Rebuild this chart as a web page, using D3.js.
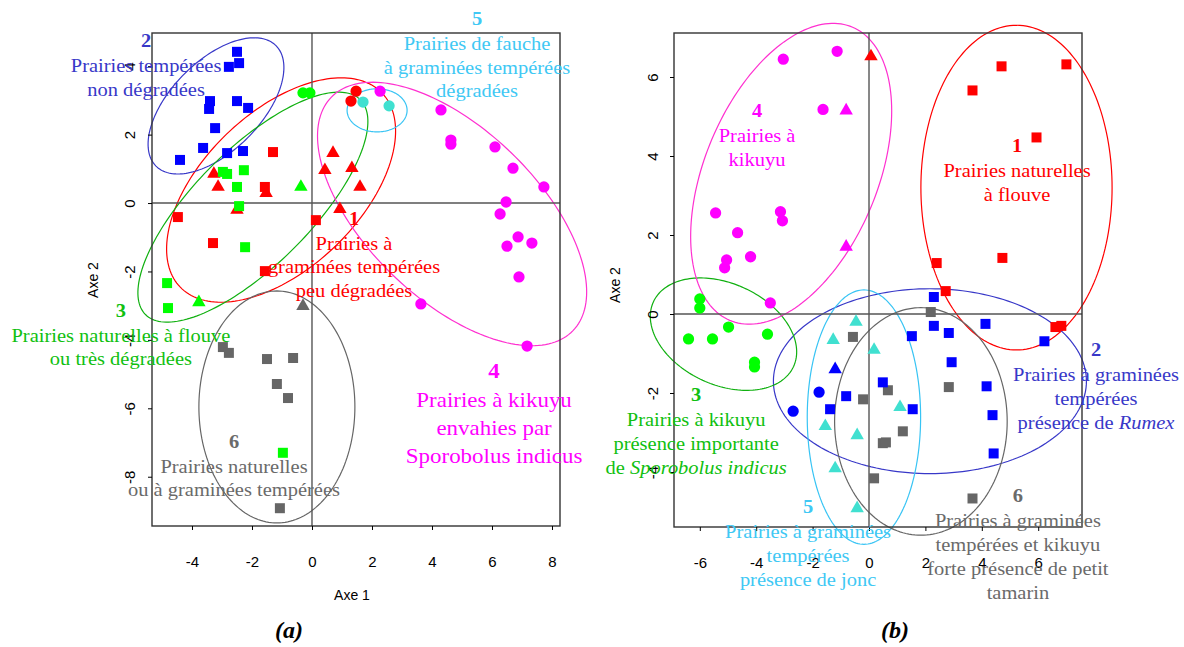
<!DOCTYPE html>
<html>
<head>
<meta charset="utf-8">
<script src="https://cdn.jsdelivr.net/npm/d3@7"></script>
<style>
  body { margin: 0; background: #fff; }
  svg { display: block; }
</style>
</head>
<body>
<div id="chart"></div>
<script>
// groups of grassland types (1..6)
const groupIds = [1, 2, 3, 4, 5, 6];

// panel (a) : [axe1, axe2, group, shape]  s = square, t = triangle, c = circle
const pointsA = [
  // group 2
  [-2.5, 4.42, 2, "s"], [-2.43, 4.09, 2, "s"], [-2.77, 3.98, 2, "s"], [-3.4, 2.98, 2, "s"],
  [-3.43, 2.75, 2, "s"], [-2.5, 2.98, 2, "s"], [-2.13, 2.78, 2, "s"], [-3.23, 2.19, 2, "s"],
  [-3.63, 1.61, 2, "s"], [-4.4, 1.26, 2, "s"], [-2.83, 1.46, 2, "s"], [-2.3, 1.52, 2, "s"],
  // group 1
  [-1.3, 1.49, 1, "s"], [-1.57, 0.47, 1, "s"], [-4.47, -0.41, 1, "s"], [-3.3, -1.17, 1, "s"],
  [0.13, -0.5, 1, "s"], [-1.57, -1.99, 1, "s"],
  [-3.27, 0.85, 1, "t"], [-3.13, 0.47, 1, "t"], [-1.53, 0.29, 1, "t"], [-2.5, -0.2, 1, "t"],
  [0.7, 1.46, 1, "t"], [0.43, 0.96, 1, "t"], [1.33, 1.02, 1, "t"], [1.6, 0.47, 1, "t"],
  [0.93, -0.18, 1, "t"],
  [1.47, 3.27, 1, "c"], [1.3, 2.98, 1, "c"],
  // group 3
  [-2.97, 0.91, 3, "s"], [-2.83, 0.85, 3, "s"], [-2.27, 0.96, 3, "s"], [-2.5, 0.47, 3, "s"],
  [-2.43, -0.09, 3, "s"], [-2.23, -1.29, 3, "s"], [-4.83, -2.34, 3, "s"], [-4.8, -3.07, 3, "s"],
  [-0.97, -7.3, 3, "s"],
  [-3.77, -2.9, 3, "t"], [-0.37, 0.47, 3, "t"],
  [-0.3, 3.22, 3, "c"], [-0.07, 3.22, 3, "c"],
  // group 6
  [-2.97, -4.21, 6, "s"], [-2.77, -4.38, 6, "s"], [-1.5, -4.56, 6, "s"], [-0.63, -4.53, 6, "s"],
  [-1.17, -5.29, 6, "s"], [-0.8, -5.7, 6, "s"], [-1.07, -8.92, 6, "s"],
  [-0.3, -3.01, 6, "t"],
  // group 5
  [1.7, 2.95, 5, "c"], [2.57, 2.84, 5, "c"],
  // group 4
  [2.27, 3.27, 4, "c"], [4.3, 2.72, 4, "c"], [4.63, 1.84, 4, "c"], [4.63, 1.72, 4, "c"],
  [6.1, 1.64, 4, "c"], [6.7, 1.02, 4, "c"], [7.73, 0.47, 4, "c"], [6.47, 0.03, 4, "c"],
  [6.27, -0.32, 4, "c"], [6.87, -0.99, 4, "c"], [6.5, -1.26, 4, "c"], [7.33, -1.17, 4, "c"],
  [6.9, -2.16, 4, "c"], [3.63, -2.95, 4, "c"], [7.17, -4.18, 4, "c"]
];

// panel (b)
const pointsB = [
  // group 4
  [-3.04, 6.45, 4, "c"], [-1.13, 6.65, 4, "c"], [-1.63, 5.18, 4, "c"], [-5.44, 2.56, 4, "c"],
  [-3.14, 2.59, 4, "c"], [-3.07, 2.36, 4, "c"], [-4.66, 2.06, 4, "c"], [-5.05, 1.37, 4, "c"],
  [-5.12, 1.17, 4, "c"], [-4.2, 1.45, 4, "c"], [-3.5, 0.28, 4, "c"],
  [-0.81, 5.15, 4, "t"], [-0.81, 1.7, 4, "t"],
  // group 1
  [0.07, 6.52, 1, "t"],
  [4.7, 6.27, 1, "s"], [7.0, 6.32, 1, "s"], [3.67, 5.66, 1, "s"], [5.94, 4.47, 1, "s"],
  [2.4, 1.29, 1, "s"], [4.73, 1.42, 1, "s"], [2.72, 0.58, 1, "s"], [6.61, -0.33, 1, "s"],
  [6.82, -0.3, 1, "s"],
  // group 3
  [-6.0, 0.38, 3, "c"], [-6.0, 0.15, 3, "c"], [-4.98, -0.33, 3, "c"], [-6.4, -0.63, 3, "c"],
  [-5.55, -0.63, 3, "c"], [-3.6, -0.51, 3, "c"], [-4.06, -1.22, 3, "c"], [-4.06, -1.34, 3, "c"],
  // group 5
  [-0.46, -0.2, 5, "t"], [-1.27, -0.66, 5, "t"], [0.18, -0.91, 5, "t"], [-1.55, -2.84, 5, "t"],
  [-0.42, -3.07, 5, "t"], [-1.2, -3.91, 5, "t"], [-0.42, -4.92, 5, "t"], [1.1, -2.36, 5, "t"],
  // group 6
  [2.19, 0.05, 6, "s"], [-0.57, -0.58, 6, "s"], [-0.21, -2.16, 6, "s"], [0.67, -1.93, 6, "s"],
  [2.83, -1.85, 6, "s"], [1.2, -2.97, 6, "s"], [0.49, -3.27, 6, "s"], [0.6, -3.25, 6, "s"],
  [0.18, -4.16, 6, "s"], [3.67, -4.67, 6, "s"],
  // group 2
  [-1.2, -1.4, 2, "t"],
  [-1.77, -1.98, 2, "c"], [-2.69, -2.46, 2, "c"],
  [-0.81, -2.08, 2, "s"], [-1.38, -2.41, 2, "s"], [2.3, 0.43, 2, "s"], [2.3, -0.3, 2, "s"],
  [2.83, -0.48, 2, "s"], [1.52, -0.56, 2, "s"], [4.13, -0.25, 2, "s"], [6.22, -0.69, 2, "s"],
  [2.93, -1.22, 2, "s"], [0.49, -1.73, 2, "s"], [4.17, -1.83, 2, "s"], [1.55, -2.41, 2, "s"],
  [4.38, -2.56, 2, "s"], [4.42, -3.53, 2, "s"]
];

// ellipses : [group, cx, cy, ux, uy, vx, vy]  (centre + two conjugate half axes)
const ellipsesA = [
  [1, -1.03, 0.38, 3.36, 2.84, 1.81, -1.64],
  [2, -3.2, 2.84, 2.0, 1.76, 1.06, -0.93],
  [3, -1.97, -0.12, 3.58, 3.14, 1.37, -1.2],
  [4, 4.67, -0.32, 4.03, -3.41, -1.97, -1.79],
  [5, 2.17, 2.71, 1.0, 0, 0, 0.63],
  [6, -1.17, -5.96, 2.6, 0, 0, 3.39]
];
const ellipsesB = [
  [1, 5.23, 3.2, 3.39, 0, 0, 4.11],
  [2, 2.16, -1.7, 5.55, 0, 0, 2.34],
  [3, -5.16, -0.51, 2.49, -0.81, -0.73, -1.17],
  [4, -2.76, 3.55, 2.18, 3.71, 2.82, -0.86],
  [5, -0.18, -2.61, 2.01, 0, 0, 3.22],
  [6, 1.84, -2.72, 3.06, 0, 0, 2.88]
];

// group labels : [group, axe1, axe2, lines]   (*...* = italic)
const labelsA = [
  [2, -5.53, 4.56, ["Prairies tempérées", "non dégradées"]],
  [5, 5.5, 5.2, ["Prairies de fauche", "à graminées tempérées", "dégradées"]],
  [1, 1.4, -0.64, ["Prairies à", "graminées tempérées", "peu dégradées"]],
  [3, -6.37, -3.33, ["Prairies naturelles à flouve", "ou très dégradées"]],
  [4, 6.07, -5.12, ["Prairies à kikuyu", "envahies par", "Sporobolus indicus"]],
  [6, -2.6, -7.16, ["Prairies naturelles", "ou à graminées tempérées"]]
];
const labelsB = [
  [4, -3.97, 4.99, ["Prairies à", "kikuyu"]],
  [1, 5.25, 4.1, ["Prairies naturelles", "à flouve"]],
  [2, 8.05, -1.06, ["Prairies à graminées", "tempérées", "présence de *Rumex*"]],
  [3, -6.13, -2.2, ["Prairies à kikuyu", "présence importante", "de *Sporobolus indicus*"]],
  [5, -2.16, -5.04, ["Prairies à graminées", "tempérées", "présence de jonc"]],
  [6, 5.28, -4.76, ["Prairies à graminées", "tempérées et kikuyu", "forte présence de petit", "tamarin"]]
];

const ticksAx = [-4, -2, 0, 2, 4, 6, 8];
const ticksAy = [-8, -6, -4, -2, 0, 2, 4];
const ticksBx = [-6, -4, -2, 0, 2, 4, 6];
const ticksBy = [-4, -2, 0, 2, 4, 6];

// colours
const pointColor = { 1: "#ff0000", 2: "#0000ff", 3: "#00ff00", 4: "#ff00ff", 5: "#40e0d0", 6: "#666666" };
const ellipseColor = { 1: "#ff0000", 2: "#3838c8", 3: "#10b010", 4: "#ff30d0", 5: "#38c4f4", 6: "#666666" };
const labelColor = { 1: "#ff0000", 2: "#3838c8", 3: "#10c010", 4: "#ff00ff", 5: "#40c8f4", 6: "#6a6a6a" };

const W = 1184, H = 647;
const svg = d3.select("#chart").append("svg")
  .attr("width", W).attr("height", H)
  .attr("viewBox", "0 0 " + W + " " + H);

const sans = "'Liberation Sans', Arial, sans-serif";
const serif = "'Liberation Serif', 'Times New Roman', serif";
const tickFmt = d => String(d); // plain hyphen minus, like R

function drawPanel(p) {
  const x = d3.scaleLinear().domain(p.xDomain).range([p.left, p.right]);
  const y = d3.scaleLinear().domain(p.yDomain).range([p.bottom, p.top]);
  const g = svg.append("g");

  // ellipses
  const tt = d3.range(0, 2 * Math.PI + 0.001, Math.PI / 90);
  const line = d3.line().x(d => x(d[0])).y(d => y(d[1]));
  p.ellipses.forEach(e => {
    const pts = tt.map(t => [e[1] + e[3] * Math.cos(t) + e[5] * Math.sin(t),
                             e[2] + e[4] * Math.cos(t) + e[6] * Math.sin(t)]);
    g.append("path")
      .attr("d", line(pts) + "Z")
      .attr("fill", "none")
      .attr("stroke", ellipseColor[e[0]])
      .attr("stroke-width", 1.2);
  });

  // zero lines
  g.append("line")
    .attr("x1", x(0)).attr("x2", x(0)).attr("y1", p.top).attr("y2", p.bottom)
    .attr("stroke", "#555").attr("stroke-width", 1.4);
  g.append("line")
    .attr("x1", p.left).attr("x2", p.right).attr("y1", y(0)).attr("y2", y(0))
    .attr("stroke", "#555").attr("stroke-width", 1.4);

  // box
  g.append("rect")
    .attr("x", p.left).attr("y", p.top)
    .attr("width", p.right - p.left).attr("height", p.bottom - p.top)
    .attr("fill", "none").attr("stroke", "#333").attr("stroke-width", 1.4);

  // axes
  const xAxis = g.append("g")
    .attr("transform", "translate(0," + p.bottom + ")")
    .call(d3.axisBottom(x).tickValues(p.xTicks).tickSize(4).tickPadding(26).tickFormat(tickFmt));
  xAxis.select(".domain").remove();
  xAxis.selectAll("text").style("font-family", sans).style("font-size", "15px").attr("fill", "#000");

  const yAxis = g.append("g")
    .attr("transform", "translate(" + p.left + ",0)")
    .call(d3.axisLeft(y).tickValues(p.yTicks).tickSize(4).tickFormat(tickFmt));
  yAxis.select(".domain").remove();
  yAxis.selectAll("text")
    .attr("x", null).attr("dy", null)
    .attr("text-anchor", "middle")
    .attr("transform", "translate(" + (-p.yLabelOffset) + ",0) rotate(-90)")
    .style("font-family", sans).style("font-size", "15px").attr("fill", "#000");

  g.append("text")
    .attr("transform", "translate(" + p.axe2X + "," + p.axe2Y + ") rotate(-90)")
    .attr("text-anchor", "middle")
    .style("font-family", sans).style("font-size", "14px")
    .text("Axe 2");

  // points
  const sym = { s: d3.symbolSquare, t: d3.symbolTriangle, c: d3.symbolCircle };
  const size = { s: 100, t: 78, c: 100 };
  g.selectAll("path.pt")
    .data(p.points)
    .enter().append("path")
    .attr("class", "pt")
    .attr("transform", d => "translate(" + x(d[0]) + "," + y(d[1]) + ")")
    .attr("d", d => d3.symbol().type(sym[d[3]]).size(size[d[3]])())
    .attr("fill", d => pointColor[d[2]]);

  // labels (the original typeface is a little wider than Liberation Serif)
  p.labels.forEach(l => {
    const st = p.labelStyle(l[0]);
    const t = g.append("text")
      .attr("transform", "translate(" + x(l[1]) + "," + y(l[2]) + ") scale(1.12,1)")
      .attr("text-anchor", "middle")
      .attr("fill", labelColor[l[0]])
      .style("font-family", serif)
      .style("font-size", st.size + "px");
    t.append("tspan").attr("x", 0).attr("y", 0)
      .style("font-weight", "bold").text(l[0]);
    l[3].forEach((s, i) => {
      const ts = t.append("tspan").attr("x", 0).attr("y", st.gap + i * st.lh);
      s.split("*").forEach((part, k) => {
        if (!part) return;
        ts.append("tspan").style("font-style", k % 2 ? "italic" : "normal").text(part);
      });
    });
  });
  return { x, y };
}

const panelA = drawPanel({
  left: 152, right: 560, top: 33, bottom: 526,
  xDomain: [-5.333, 8.267], yDomain: [-9.44, 4.97],
  xTicks: ticksAx, yTicks: ticksAy, yLabelOffset: 17,
  axe2X: 98, axe2Y: 280,
  points: pointsA, ellipses: ellipsesA, labels: labelsA,
  labelStyle: gid => gid === 4 ? { size: 20.5, gap: 29, lh: 28 } : { size: 18.3, gap: 25, lh: 23.5 }
});

const panelB = drawPanel({
  left: 674, right: 1082, top: 33, bottom: 527,
  xDomain: [-6.915, 7.553], yDomain: [-5.392, 7.114],
  xTicks: ticksBx, yTicks: ticksBy, yLabelOffset: 16,
  axe2X: 620, axe2Y: 285,
  points: pointsB, ellipses: ellipsesB, labels: labelsB,
  labelStyle: () => ({ size: 18.3, gap: 25, lh: 24 })
});

// Axe 1 title (panel a)
svg.append("text")
  .attr("x", 352).attr("y", 600)
  .attr("text-anchor", "middle")
  .style("font-family", sans).style("font-size", "14px")
  .text("Axe 1");

// captions
[["(a)", 289], ["(b)", 895]].forEach(c => {
  svg.append("text")
    .attr("x", c[1]).attr("y", 638)
    .attr("text-anchor", "middle")
    .style("font-family", serif).style("font-size", "24px")
    .style("font-weight", "bold").style("font-style", "italic")
    .text(c[0]);
});
</script>
</body>
</html>
